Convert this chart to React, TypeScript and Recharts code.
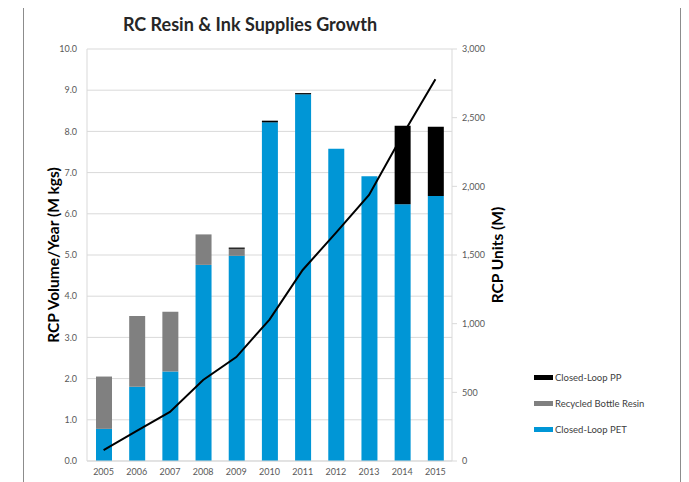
import React from "react";
import { ComposedChart, Bar, Line, XAxis, YAxis, CartesianGrid } from "recharts";

const years = ["2005", "2006", "2007", "2008", "2009", "2010", "2011", "2012", "2013", "2014", "2015"];
const closedLoopPET = [0.78, 1.8, 2.17, 4.76, 4.98, 8.22, 8.9, 7.58, 6.91, 6.23, 6.43];
const recycledBottleResin = [1.27, 1.72, 1.45, 0.74, 0.17, 0, 0, 0, 0, 0, 0];
const closedLoopPP = [0, 0, 0, 0, 0.03, 0.04, 0.03, 0, 0, 1.91, 1.68];
const rcpUnits = [80, 220, 357, 590, 757, 1030, 1391, 1661, 1937, 2370, 2780];
const leftTicks = [0, 1, 2, 3, 4, 5, 6, 7, 8, 9, 10];
const rightTicks = [0, 500, 1000, 1500, 2000, 2500, 3000];

const data = years.map((y, i) => ({
  year: y,
  pet: closedLoopPET[i],
  rec: recycledBottleResin[i],
  pp: closedLoopPP[i],
  units: rcpUnits[i],
}));

const FONT = "Lato, 'Open Sans', sans-serif";
const BLUE = "#0096D6";
const GRAY = "#808080";

const legendItems = [
  { label: "Closed-Loop PP", color: "#000000" },
  { label: "Recycled Bottle Resin", color: GRAY },
  { label: "Closed-Loop PET", color: BLUE },
];

export default function App() {
  return (
    <div style={{ position: "relative", width: 689, height: 482, margin: "-8px 0 0 -8px", overflow: "hidden", background: "#fff" }}>
      <div style={{ position: "absolute", left: 23, top: 6, width: 658, height: 500, border: "1.5px solid #8c8c8c", boxSizing: "border-box" }} />
      <div style={{ position: "absolute", left: 0, top: 13, width: 500, textAlign: "center", fontFamily: FONT, fontWeight: 700, fontSize: 18, color: "#262626" }}>
        RC Resin &amp; Ink Supplies Growth
      </div>
      <div style={{ position: "absolute", left: 0, top: 0 }}>
        <ComposedChart width={689} height={482} data={data} margin={{ top: 49, right: 197, bottom: 1, left: 47 }}>
          <CartesianGrid vertical={false} stroke="#d9d9d9" yAxisId="left" />
          <XAxis dataKey="year" height={20} tickLine={false} axisLine={{ stroke: "#d9d9d9" }} tick={{ fontFamily: FONT, fontSize: 9, fill: "#595959" }} interval={0} />
          <YAxis
            yAxisId="left"
            width={40}
            domain={[0, 10]}
            ticks={leftTicks}
            tickFormatter={(v: number) => v.toFixed(1)}
            tickLine={false}
            axisLine={{ stroke: "#d9d9d9" }}
            tick={{ fontFamily: FONT, fontSize: 9, fill: "#595959" }}
            tickMargin={4}
            label={{ value: "RCP Volume/Year (M kgs)", angle: -90, position: "insideLeft", offset: 6, style: { fontFamily: FONT, fontWeight: 700, fontSize: 15.5, fill: "#000", textAnchor: "middle" } }}
          />
          <YAxis
            yAxisId="right"
            orientation="right"
            width={40}
            domain={[0, 3000]}
            ticks={rightTicks}
            tickFormatter={(v: number) => v.toLocaleString("en-US")}
            tickSize={5}
            tickLine={{ stroke: "#d9d9d9" }}
            axisLine={{ stroke: "#d9d9d9" }}
            tick={{ fontFamily: FONT, fontSize: 9, fill: "#595959" }}
            tickMargin={5}
            label={{ value: "RCP Units (M)", angle: -90, position: "insideRight", offset: -5, style: { fontFamily: FONT, fontWeight: 700, fontSize: 15.5, fill: "#000", textAnchor: "middle" } }}
          />
          <Bar yAxisId="left" dataKey="pet" stackId="a" fill={BLUE} barSize={16} isAnimationActive={false} name="Closed-Loop PET" />
          <Bar yAxisId="left" dataKey="rec" stackId="a" fill={GRAY} barSize={16} isAnimationActive={false} name="Recycled Bottle Resin" />
          <Bar yAxisId="left" dataKey="pp" stackId="a" fill="#000000" barSize={16} isAnimationActive={false} name="Closed-Loop PP" />
          <Line yAxisId="right" dataKey="units" type="linear" stroke="#000" strokeWidth={2} dot={false} isAnimationActive={false} />
        </ComposedChart>
      </div>
      <div style={{ position: "absolute", left: 534, top: 371, fontFamily: FONT, fontSize: 9.5, color: "#404040" }}>
        {legendItems.map((it, i) => (
          <div key={it.label} style={{ display: "flex", alignItems: "center", height: 13, marginBottom: i < 2 ? 13 : 0 }}>
            <div style={{ width: 19, height: 5, background: it.color, marginRight: 2 }} />
            <span>{it.label}</span>
          </div>
        ))}
      </div>
    </div>
  );
}
